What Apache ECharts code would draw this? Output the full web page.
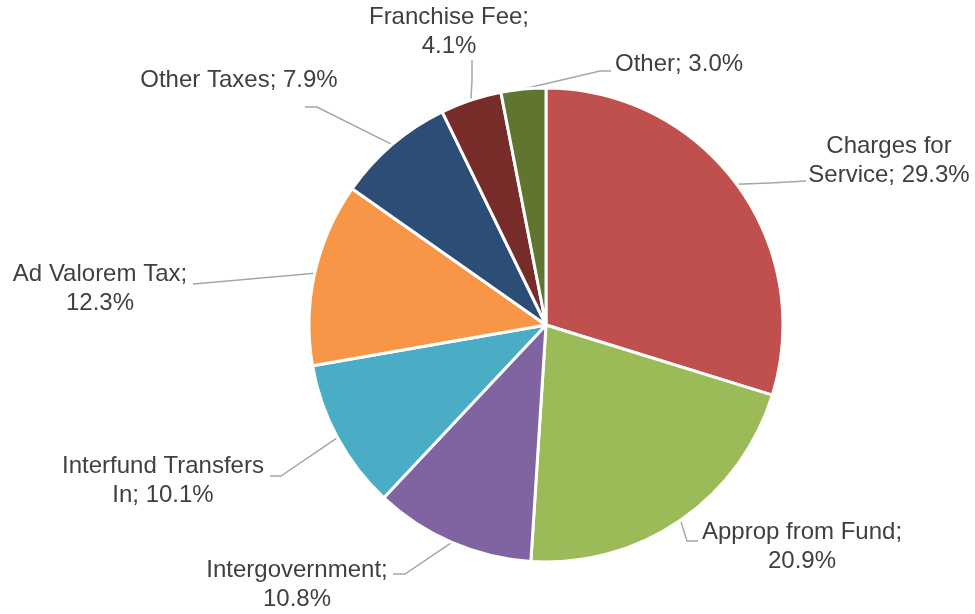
<!DOCTYPE html>
<html>
<head>
<meta charset="utf-8">
<script src="https://cdn.jsdelivr.net/npm/echarts@6/dist/echarts.min.js"></script>
<style>
  html, body { margin: 0; padding: 0; background: #fff; }
  #chart { width: 975px; height: 614px; }
</style>
</head>
<body>
<div id="chart"></div>
<script>
// Revenue sources, percent of total (clockwise from 12 o'clock)
const categories = [
  'Charges for Service',
  'Approp from Fund',
  'Intergovernment',
  'Interfund Transfers In',
  'Ad Valorem Tax',
  'Other Taxes',
  'Franchise Fee',
  'Other'
];
const shares = [29.3, 20.9, 10.8, 10.1, 12.3, 7.9, 4.1, 3.0];
const colors = ['#C0504D', '#9BBB59', '#8064A2', '#4BACC6', '#F79646', '#2C4D75', '#772C2A', '#5F7530'];

// Label placement: anchor point, alignment, where the text wraps, and leader-line bends
const labelSpots = [
  { x: 889, y: 161, align: 'center', wrap: 'word:2', bends: [[770, 183], [806, 181]] },
  { x: 802, y: 547, align: 'center', wrap: 'value', bends: [[687, 541], [698, 541]] },
  { x: 297, y: 585, align: 'center', wrap: 'value', bends: [[405, 574], [393, 574]] },
  { x: 163, y: 481, align: 'center', wrap: 'word:2', bends: [[281, 476], [270, 476]] },
  { x: 100, y: 289, align: 'center', wrap: 'value', bends: [[205, 283], [193, 284]] },
  { x: 239, y: 80,  align: 'center', wrap: 'none',  bends: [[317, 107], [305, 107]] },
  { x: 449, y: 32,  align: 'center', wrap: 'value', bends: [[472, 80], [472, 60]] },
  { x: 615, y: 64,  align: 'left',   wrap: 'none',  bends: [[600, 71], [611, 71]] }
];

function labelText(name, value, wrap) {
  const pct = value.toFixed(1) + '%';
  if (wrap === 'value') return name + ';\n' + pct;
  if (wrap.startsWith('word:')) {
    const n = parseInt(wrap.split(':')[1], 10);
    const words = name.split(' ');
    return words.slice(0, n).join(' ') + '\n' + words.slice(n).join(' ') + '; ' + pct;
  }
  return name + '; ' + pct;
}

const chart = echarts.init(document.getElementById('chart'), null, { renderer: 'canvas' });

chart.setOption({
  backgroundColor: '#ffffff',
  animation: false,
  series: [{
    type: 'pie',
    center: [546, 325],
    radius: [0, 237],
    startAngle: 90,
    clockwise: true,
    avoidLabelOverlap: false,
    itemStyle: { borderColor: '#ffffff', borderWidth: 3 },
    label: {
      show: true,
      position: 'outside',
      color: '#404040',
      fontFamily: '"Liberation Sans", Arial, sans-serif',
      fontSize: 24,
      lineHeight: 28.5,
      formatter: (p) => labelText(p.name, p.value, labelSpots[p.dataIndex].wrap)
    },
    labelLine: {
      show: true,
      smooth: false,
      lineStyle: { color: '#A6A6A6', width: 1.5 }
    },
    labelLayout: (params) => {
      const s = labelSpots[params.dataIndex];
      const start = params.labelLinePoints ? params.labelLinePoints[0] : s.bends[0];
      return {
        x: s.x,
        y: s.y,
        align: s.align,
        verticalAlign: 'middle',
        hideOverlap: false,
        labelLinePoints: [start, s.bends[0], s.bends[1]]
      };
    },
    data: categories.map((name, i) => ({
      name: name,
      value: shares[i],
      itemStyle: { color: colors[i] }
    }))
  }]
});
</script>
</body>
</html>
